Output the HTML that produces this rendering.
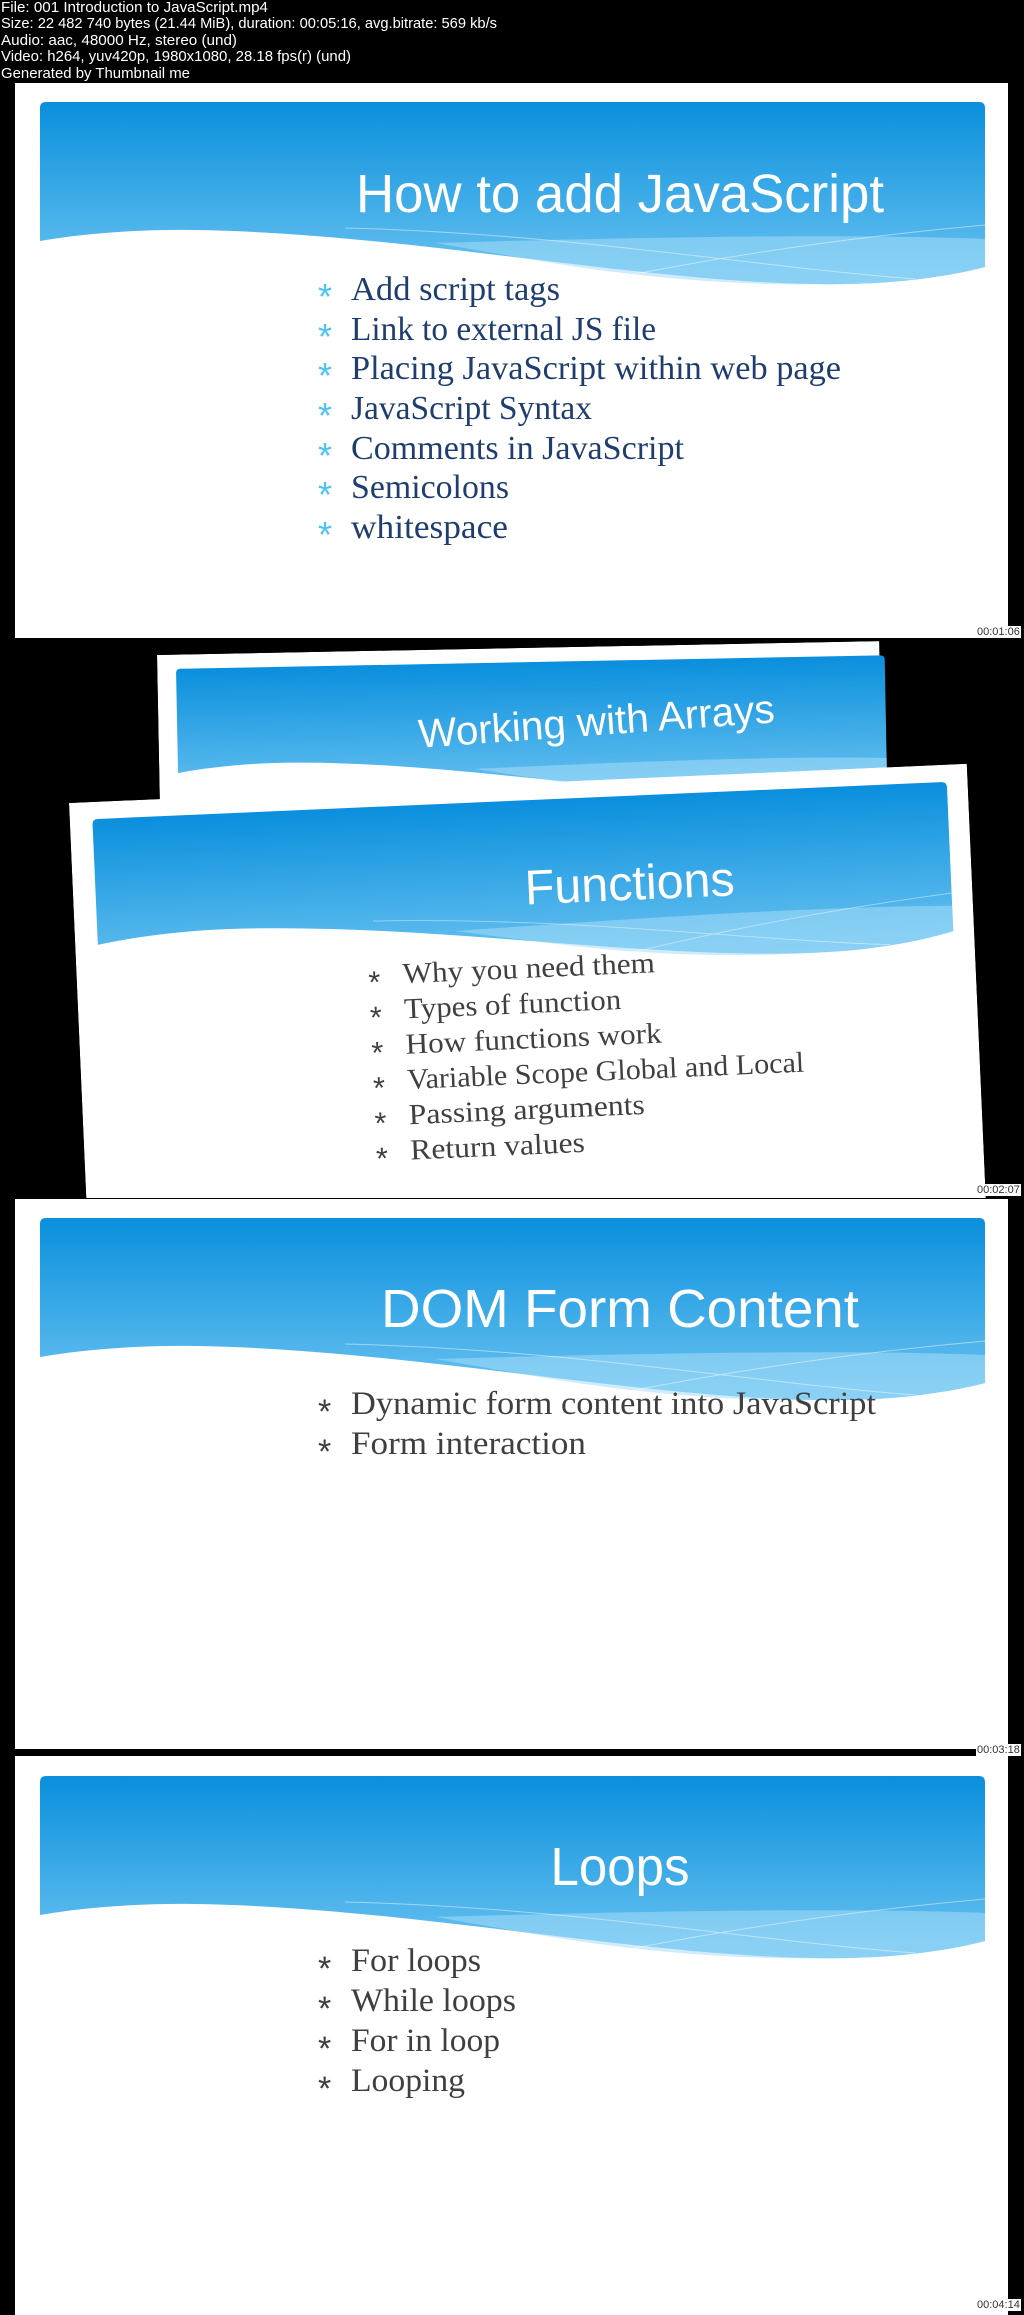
<!DOCTYPE html>
<html><head><meta charset="utf-8">
<style>
html,body{margin:0;padding:0;background:#000;}
body{width:1024px;height:2315px;position:relative;overflow:hidden;}
.abs{position:absolute;}
.slide{position:absolute;width:993px;}
.ts{position:absolute;font:11px "Liberation Sans",sans-serif;color:#333;background:#fff;padding:0 1px;}
</style></head><body>

<svg class="abs" style="left:0;top:0" width="600" height="83">
<g fill="#fff" font-family="Liberation Sans, sans-serif" font-size="15">
<text x="1" y="12" textLength="267" lengthAdjust="spacingAndGlyphs">File: 001 Introduction to JavaScript.mp4</text>
<text x="1" y="28" textLength="496" lengthAdjust="spacingAndGlyphs">Size: 22 482 740 bytes (21.44 MiB), duration: 00:05:16, avg.bitrate: 569 kb/s</text>
<text x="1" y="45" textLength="236" lengthAdjust="spacingAndGlyphs">Audio: aac, 48000 Hz, stereo (und)</text>
<text x="1" y="61" textLength="350" lengthAdjust="spacingAndGlyphs">Video: h264, yuv420p, 1980x1080, 28.18 fps(r) (und)</text>
<text x="1" y="78" textLength="189" lengthAdjust="spacingAndGlyphs">Generated by Thumbnail me</text>
</g></svg>

<!-- Slide 1 -->
<svg class="slide" style="left:15px;top:83px;height:555px" width="993" height="555" viewBox="0 0 993 555">
<defs><linearGradient id="g" x1="0" y1="0" x2="0" y2="1"><stop offset="0" stop-color="#0a8fdd"/><stop offset="1" stop-color="#6cc4f1"/></linearGradient></defs>
<rect width="993" height="555" fill="#fff"/>
<path d="M25,25 Q25,19 31,19 L964,19 Q970,19 970,25 L970,184 C940,192 890,200 835,201 C650,205 400,150 180,147 C130,146 70,150 25,158 Z" fill="url(#g)"/>
<path d="M420,160 C600,155 820,150 970,156 L970,184 C940,192 890,200 835,201 C650,205 540,180 420,160 Z" fill="#a6dcf7" opacity="0.55"/>
<path d="M330,145 C550,150 750,185 900,196 M600,195 C750,165 880,150 970,142" stroke="#fff" stroke-opacity="0.45" fill="none" stroke-width="1"/>
<text x="605" y="129" text-anchor="middle" fill="#fff" font-family="Liberation Sans, sans-serif" font-size="54" textLength="528" lengthAdjust="spacingAndGlyphs">How to add JavaScript</text>
<g font-family="Liberation Serif, serif" font-size="34" fill="#1f3d6f">
<text x="336" y="217" textLength="209" lengthAdjust="spacingAndGlyphs">Add script tags</text>
<text x="336" y="257" textLength="305" lengthAdjust="spacingAndGlyphs">Link to external JS file</text>
<text x="336" y="296" textLength="490" lengthAdjust="spacingAndGlyphs">Placing JavaScript within web page</text>
<text x="336" y="336" textLength="241" lengthAdjust="spacingAndGlyphs">JavaScript Syntax</text>
<text x="336" y="376" textLength="333" lengthAdjust="spacingAndGlyphs">Comments in JavaScript</text>
<text x="336" y="415" textLength="158" lengthAdjust="spacingAndGlyphs">Semicolons</text>
<text x="336" y="455" textLength="157" lengthAdjust="spacingAndGlyphs">whitespace</text>
</g>
<g font-family="Liberation Sans, sans-serif" font-size="36" fill="#4cc3f2">
<text x="303" y="226">*</text><text x="303" y="266">*</text><text x="303" y="305">*</text><text x="303" y="345">*</text><text x="303" y="385">*</text><text x="303" y="424">*</text><text x="303" y="464">*</text>
</g>
</svg>
<div class="ts" style="left:976px;top:626px">00:01:06</div>

<!-- Frame 2 -->
<div class="abs" style="left:0;top:640px;width:1024px;height:558px;overflow:hidden;background:#000">
<svg class="slide" style="left:0;top:0;height:555px;transform-origin:0 0;transform:translate(157px,15px) rotate(-1.1deg) scale(0.75)" width="993" height="555" viewBox="0 0 993 555">
<defs><linearGradient id="g2" x1="0" y1="0" x2="0" y2="1"><stop offset="0" stop-color="#0a8fdd"/><stop offset="1" stop-color="#6cc4f1"/></linearGradient></defs>
<rect width="963" height="555" fill="#fff"/>
<path d="M25,25 Q25,19 31,19 L964,19 Q970,19 970,25 L970,184 C940,192 890,200 835,201 C650,205 400,150 180,147 C130,146 70,150 25,158 Z" fill="url(#g2)"/>
<path d="M420,160 C600,155 820,150 970,156 L970,184 C940,192 890,200 835,201 C650,205 540,180 420,160 Z" fill="#a6dcf7" opacity="0.55"/>
<text x="585" y="118" text-anchor="middle" fill="#fff" font-family="Liberation Sans, sans-serif" font-size="54" textLength="476" lengthAdjust="spacingAndGlyphs" transform="rotate(-3 585 118)">Working with Arrays</text>
</svg>
<svg class="slide" style="left:0;top:0;height:555px;transform-origin:0 0;transform:translate(69px,163px) rotate(-2.5deg) scale(0.905)" width="993" height="555" viewBox="0 0 993 555">
<defs><linearGradient id="g3" x1="0" y1="0" x2="0" y2="1"><stop offset="0" stop-color="#0a8fdd"/><stop offset="1" stop-color="#6cc4f1"/></linearGradient></defs>
<rect width="993" height="555" fill="#fff"/>
<path d="M25,25 Q25,19 31,19 L964,19 Q970,19 970,25 L970,184 C940,192 890,200 835,201 C650,205 400,150 180,147 C130,146 70,150 25,158 Z" fill="url(#g3)"/>
<path d="M420,160 C600,155 820,150 970,156 L970,184 C940,192 890,200 835,201 C650,205 540,180 420,160 Z" fill="#a6dcf7" opacity="0.55"/>
<path d="M330,145 C550,150 750,185 900,196 M600,195 C750,165 880,150 970,142" stroke="#fff" stroke-opacity="0.45" fill="none" stroke-width="1"/>
<text x="615" y="134" text-anchor="middle" fill="#fff" font-family="Liberation Sans, sans-serif" font-size="54" textLength="232" lengthAdjust="spacingAndGlyphs">Functions</text>
<g font-family="Liberation Serif, serif" font-size="32" fill="#404040">
<text x="360" y="215" textLength="279" lengthAdjust="spacingAndGlyphs">Why you need them</text>
<text x="360" y="254" textLength="240" lengthAdjust="spacingAndGlyphs">Types of function</text>
<text x="360" y="293" textLength="283" lengthAdjust="spacingAndGlyphs">How functions work</text>
<text x="360" y="332" textLength="439" lengthAdjust="spacingAndGlyphs">Variable Scope Global and Local</text>
<text x="360" y="371" textLength="261" lengthAdjust="spacingAndGlyphs">Passing arguments</text>
<text x="360" y="410" textLength="193" lengthAdjust="spacingAndGlyphs">Return values</text>
</g>
<g font-family="Liberation Sans, sans-serif" font-size="34" fill="#404040">
<text x="322" y="224">*</text><text x="322" y="263">*</text><text x="322" y="302">*</text><text x="322" y="341">*</text><text x="322" y="380">*</text><text x="322" y="419">*</text>
</g>
</svg>
</div>
<div class="ts" style="left:976px;top:1184px">00:02:07</div>

<!-- Slide 3 -->
<svg class="slide" style="left:15px;top:1199px;height:550px" width="993" height="550" viewBox="0 0 993 550">
<defs><linearGradient id="g4" x1="0" y1="0" x2="0" y2="1"><stop offset="0" stop-color="#0a8fdd"/><stop offset="1" stop-color="#6cc4f1"/></linearGradient></defs>
<rect width="993" height="550" fill="#fff"/>
<path d="M25,25 Q25,19 31,19 L964,19 Q970,19 970,25 L970,184 C940,192 890,200 835,201 C650,205 400,150 180,147 C130,146 70,150 25,158 Z" fill="url(#g4)"/>
<path d="M420,160 C600,155 820,150 970,156 L970,184 C940,192 890,200 835,201 C650,205 540,180 420,160 Z" fill="#a6dcf7" opacity="0.55"/>
<path d="M330,145 C550,150 750,185 900,196 M600,195 C750,165 880,150 970,142" stroke="#fff" stroke-opacity="0.45" fill="none" stroke-width="1"/>
<text x="605" y="128" text-anchor="middle" fill="#fff" font-family="Liberation Sans, sans-serif" font-size="54" textLength="478" lengthAdjust="spacingAndGlyphs">DOM Form Content</text>
<g font-family="Liberation Serif, serif" font-size="33" fill="#3f3f3f">
<text x="336" y="215" textLength="525" lengthAdjust="spacingAndGlyphs">Dynamic form content into JavaScript</text>
<text x="336" y="255" textLength="235" lengthAdjust="spacingAndGlyphs">Form interaction</text>
</g>
<g font-family="Liberation Sans, sans-serif" font-size="34" fill="#3f3f3f">
<text x="303" y="224">*</text><text x="303" y="264">*</text>
</g>
</svg>
<div class="ts" style="left:976px;top:1744px">00:03:18</div>

<!-- Slide 4 -->
<svg class="slide" style="left:15px;top:1756px;height:559px" width="993" height="559" viewBox="0 0 993 559">
<defs><linearGradient id="g5" x1="0" y1="0" x2="0" y2="1"><stop offset="0" stop-color="#0a8fdd"/><stop offset="1" stop-color="#6cc4f1"/></linearGradient></defs>
<rect width="993" height="559" fill="#fff"/>
<path d="M25,26 Q25,20 31,20 L964,20 Q970,20 970,26 L970,185 C940,193 890,201 835,202 C650,206 400,151 180,148 C130,147 70,151 25,159 Z" fill="url(#g5)"/>
<path d="M420,161 C600,156 820,151 970,157 L970,185 C940,193 890,201 835,202 C650,206 540,181 420,161 Z" fill="#a6dcf7" opacity="0.55"/>
<path d="M330,146 C550,151 750,186 900,197 M600,196 C750,166 880,151 970,143" stroke="#fff" stroke-opacity="0.45" fill="none" stroke-width="1"/>
<text x="605" y="129" text-anchor="middle" fill="#fff" font-family="Liberation Sans, sans-serif" font-size="54" textLength="139" lengthAdjust="spacingAndGlyphs">Loops</text>
<g font-family="Liberation Serif, serif" font-size="33" fill="#3f3f3f">
<text x="336" y="215" textLength="130" lengthAdjust="spacingAndGlyphs">For loops</text>
<text x="336" y="255" textLength="165" lengthAdjust="spacingAndGlyphs">While loops</text>
<text x="336" y="295" textLength="149" lengthAdjust="spacingAndGlyphs">For in loop</text>
<text x="336" y="335" textLength="114" lengthAdjust="spacingAndGlyphs">Looping</text>
</g>
<g font-family="Liberation Sans, sans-serif" font-size="34" fill="#3f3f3f">
<text x="303" y="224">*</text><text x="303" y="264">*</text><text x="303" y="304">*</text><text x="303" y="344">*</text>
</g>
</svg>
<div class="ts" style="left:976px;top:2299px">00:04:14</div>

</body></html>
